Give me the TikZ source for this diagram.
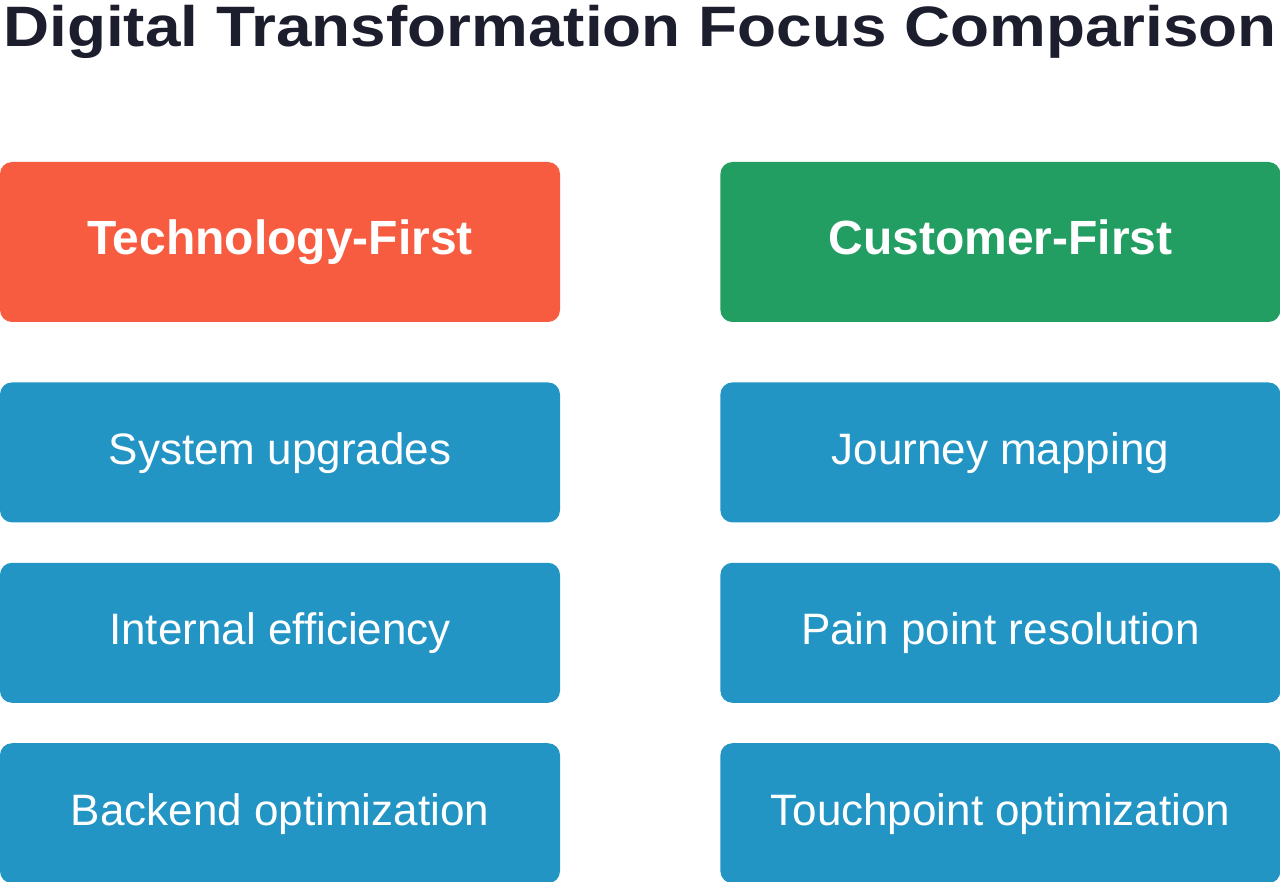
\documentclass[tikz,border=0pt]{standalone}
\usepackage{fontspec}
\setmainfont{Liberation Sans}
\usetikzlibrary{positioning}
\definecolor{TitleInk}{RGB}{28,30,46}
\definecolor{TechRed}{RGB}{248,92,64}
\definecolor{CustGreen}{RGB}{34,158,99}
\definecolor{ItemBlue}{RGB}{35,149,197}
\tikzset{
  titlenode/.style={text=TitleInk,font=\fontsize{57}{64}\selectfont\bfseries,inner sep=0pt,anchor=base},
  headnode/.style={rounded corners=12pt,minimum width=560pt,minimum height=160pt,inner sep=0pt,text=white,font=\fontsize{48}{56}\selectfont\bfseries,text height=36pt,text depth=10pt},
  itemnode/.style={fill=ItemBlue,rounded corners=12pt,minimum width=560pt,minimum height=140pt,inner sep=0pt,text=white,font=\fontsize{44}{52}\selectfont,text height=34pt,text depth=10pt}
}
\begin{document}
\begin{tikzpicture}[node distance=40pt and 160pt]
\useasboundingbox (0pt,0pt) rectangle (1280pt,-882pt);
\node[titlenode] (title) at (640pt,-47pt) {\scalebox{1.12}[1]{Digital Transformation Focus Comparison}};

% column heads
\node[headnode, fill=TechRed] (tech) at (280pt,-242pt) {Technology-First};
\node[headnode, fill=CustGreen, right=of tech] (cust) {Customer-First};

% technology-first items
\node[itemnode, below=60pt of tech] (t1) {System upgrades};
\node[itemnode, below=of t1] (t2) {Internal efficiency};
\node[itemnode, below=of t2] (t3) {Backend optimization};

% customer-first items
\node[itemnode, below=60pt of cust] (c1) {Journey mapping};
\node[itemnode, below=of c1] (c2) {Pain point resolution};
\node[itemnode, below=of c2] (c3) {Touchpoint optimization};
\end{tikzpicture}
\end{document}
